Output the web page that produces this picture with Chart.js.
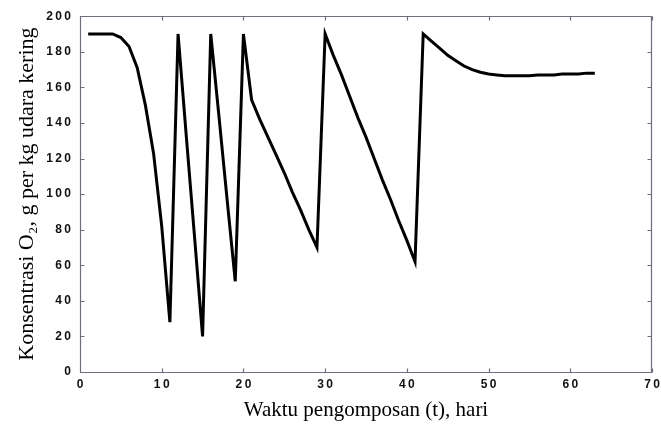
<!DOCTYPE html>
<html>
<head>
<meta charset="utf-8">
<script src="https://cdn.jsdelivr.net/npm/chart.js@4.4.1/dist/chart.umd.min.js"></script>
<style>
    html, body { margin: 0; padding: 0; background: #fff; overflow: hidden; }
    #wrap { width: 661px; height: 427px; }
    canvas { display: block; }
</style>
</head>
<body>
<div id="wrap"><canvas id="o2Chart"></canvas></div>
<script>
// hari pengomposan
const days = [
    1, 2, 3, 4, 5, 6, 7, 8, 9, 10,
    11, 12, 13, 14, 15, 16, 17, 18, 19, 20,
    21, 22, 23, 24, 25, 26, 27, 28, 29, 30,
    31, 32, 33, 34, 35, 36, 37, 38, 39, 40,
    41, 42, 43, 44, 45, 46, 47, 48, 49, 50,
    51, 52, 53, 54, 55, 56, 57, 58, 59, 60,
    61, 62, 63
];
// konsentrasi O2, g per kg udara kering
const o2 = [
    190, 190, 190, 190, 188, 183, 171, 150, 123, 82,
    28, 190, 133, 77, 20, 190, 144, 97, 51, 190,
    153, 142, 132, 122, 112, 101, 91, 80, 70, 190,
    178, 167, 155, 143, 132, 120, 108, 97, 85, 74,
    62, 190, 186, 182, 178, 175, 172, 170, 168.5, 167.5,
    167, 166.5, 166.5, 166.5, 166.5, 167, 167, 167, 167.5, 167.5,
    167.5, 168, 168
];
const xTicks = [0, 10, 20, 30, 40, 50, 60, 70];
const yTicks = [0, 20, 40, 60, 80, 100, 120, 140, 160, 180, 200];

const spaced = (v) => String(v).split('').join('\u2009');

// frame with inward ticks on all four sides, placed from the scales
const framePlugin = {
    id: 'frame',
    afterDraw(chart) {
        const ctx = chart.ctx;
        const sx = chart.scales.x;
        const sy = chart.scales.y;
        const l = Math.round(sx.getPixelForValue(0)) + 0.5;
        const r = Math.round(sx.getPixelForValue(70)) - 0.5;
        const t = Math.round(sy.getPixelForValue(200)) + 0.5;
        const b = Math.round(sy.getPixelForValue(0)) + 0.5;
        ctx.save();
        ctx.strokeStyle = '#6e6e7c';
        ctx.lineWidth = 1.2;
        ctx.beginPath();
        ctx.moveTo(l, t); ctx.lineTo(r, t); ctx.lineTo(r, b); ctx.lineTo(l, b); ctx.closePath();
        xTicks.forEach(v => {
            const px = Math.round(sx.getPixelForValue(v)) + 0.5;
            ctx.moveTo(px, b); ctx.lineTo(px, b - 4);
            ctx.moveTo(px, t); ctx.lineTo(px, t + 4);
        });
        yTicks.forEach(v => {
            const py = Math.round(sy.getPixelForValue(v)) + 0.5;
            ctx.moveTo(l, py); ctx.lineTo(l + 4, py);
            ctx.moveTo(r, py); ctx.lineTo(r - 4, py);
        });
        ctx.stroke();
        ctx.restore();
    }
};

new Chart('o2Chart', {
    type: 'line',
    data: {
        labels: days,
        datasets: [{
            data: days.map((d, i) => ({ x: d, y: o2[i] })),
            borderColor: '#000',
            borderWidth: 3,
            pointRadius: 0,
            tension: 0,
            borderJoinStyle: 'miter'
        }]
    },
    options: {
        responsive: true,
        maintainAspectRatio: false,
        animation: false,
        layout: { padding: { top: 9, right: 0, left: 14, bottom: 0 } },
        plugins: {
            legend: { display: false },
            tooltip: { enabled: false }
        },
        scales: {
            x: {
                type: 'linear',
                min: 0,
                max: 70,
                afterBuildTicks: (s) => { s.ticks = xTicks.map(v => ({ value: v })); },
                afterFit: (s) => { s.height = 55; s.paddingRight = 9; },
                grid: { display: false, drawTicks: false },
                border: { display: false },
                ticks: {
                    color: '#111',
                    padding: 5,
                    maxRotation: 0,
                    font: { family: 'Liberation Sans', size: 12, weight: 'bold' },
                    callback: spaced
                },
                title: {
                    display: true,
                    text: 'Waktu pengomposan (t), hari',
                    color: '#000',
                    padding: { top: 0, bottom: 4 },
                    font: { family: 'Liberation Serif', size: 21 }
                }
            },
            y: {
                min: 0,
                max: 200,
                afterBuildTicks: (s) => { s.ticks = yTicks.map(v => ({ value: v })); },
                afterFit: (s) => { s.width = 66; },
                grid: { display: false, drawTicks: false },
                border: { display: false },
                ticks: {
                    color: '#111',
                    padding: 9,
                    font: { family: 'Liberation Sans', size: 12, weight: 'bold' },
                    callback: spaced
                },
                title: {
                    display: true,
                    text: 'Konsentrasi O\u2082, g per kg udara kering',
                    color: '#000',
                    padding: { top: 0, bottom: 0 },
                    font: { family: 'Liberation Serif', size: 22 }
                }
            }
        }
    },
    plugins: [framePlugin]
});
</script>
</body>
</html>
